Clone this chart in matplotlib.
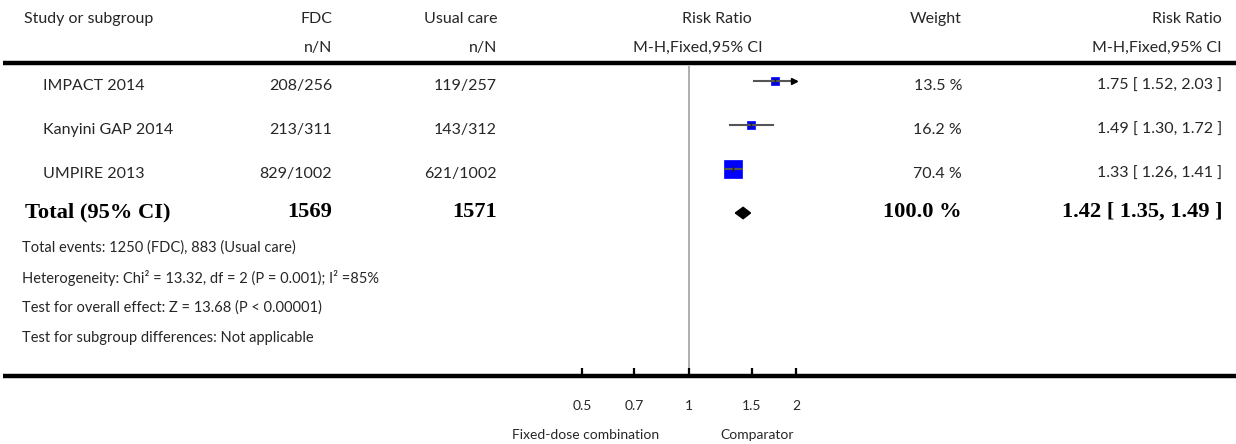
import numpy as np
import matplotlib
matplotlib.use("Agg")
import matplotlib.pyplot as plt

# study data
studies = ["IMPACT 2014", "Kanyini GAP 2014", "UMPIRE 2013"]
fdc_nN = ["208/256", "213/311", "829/1002"]
usual_nN = ["119/257", "143/312", "621/1002"]
rr = [1.75, 1.49, 1.33]
ci_lo = [1.52, 1.30, 1.26]
ci_hi = [2.03, 1.72, 1.41]
weights = [13.5, 16.2, 70.4]

# pooled result
total_fdc = 1569
total_usual = 1571
total_rr = 1.42
total_lo = 1.35
total_hi = 1.49
total_weight = 100.0

footnotes = [
    "Total events: 1250 (FDC), 883 (Usual care)",
    "Heterogeneity: Chi\u00b2 = 13.32, df = 2 (P = 0.001); I\u00b2 =85%",
    "Test for overall effect: Z = 13.68 (P < 0.00001)",
    "Test for subgroup differences: Not applicable",
]

xticks = [0.5, 0.7, 1, 1.5, 2]
xticklabels = ["0.5", "0.7", "1", "1.5", "2"]
xmin, xmax = 0.5, 2

W, H = 1236, 444
fig = plt.figure(figsize=(W / 100, H / 100), dpi=100)
plt.rcParams["font.family"] = ["Lato", "DejaVu Sans"]

# layout axes in pixel coordinates
lay = fig.add_axes([0, 0, 1, 1])
lay.set_xlim(0, W)
lay.set_ylim(H, 0)
lay.axis("off")

fs = 11.5      # header / study rows
ffs = 10.5     # footnotes
bfs = 16.2     # bold total row
tc = "#262626"
serif = ["Liberation Serif", "DejaVu Serif"]

# headers
lay.text(24, 19, "Study or subgroup", fontsize=fs, color=tc, va="center")
lay.text(332, 19, "FDC", fontsize=fs, color=tc, va="center", ha="right")
lay.text(332, 48, "n/N", fontsize=fs, color=tc, va="center", ha="right")
lay.text(497, 19, "Usual care", fontsize=fs, color=tc, va="center", ha="right")
lay.text(497, 48, "n/N", fontsize=fs, color=tc, va="center", ha="right")
lay.text(717, 19, "Risk Ratio", fontsize=fs, color=tc, va="center", ha="center")
lay.text(698, 48, "M-H,Fixed,95% CI", fontsize=fs, color=tc, va="center", ha="center")
lay.text(962, 19, "Weight", fontsize=fs, color=tc, va="center", ha="right")
lay.text(1222, 19, "Risk Ratio", fontsize=fs, color=tc, va="center", ha="right")
lay.text(1222, 48, "M-H,Fixed,95% CI", fontsize=fs, color=tc, va="center", ha="right")

lay.plot([3, W], [63.5, 63.5], color="black", lw=3.2, solid_capstyle="butt")
lay.plot([3, W], [376, 376], color="black", lw=3.2, solid_capstyle="butt")

# study rows
for i, name in enumerate(studies):
    y = 86 + 44 * i
    lay.text(43, y, name, fontsize=fs, color=tc, va="center")
    lay.text(332, y, fdc_nN[i], fontsize=fs, color=tc, va="center", ha="right")
    lay.text(497, y, usual_nN[i], fontsize=fs, color=tc, va="center", ha="right")
    lay.text(962, y, f"{weights[i]:.1f} %", fontsize=fs, color=tc, va="center", ha="right")
    lay.text(1222, y, f"{rr[i]:.2f} [ {ci_lo[i]:.2f}, {ci_hi[i]:.2f} ]",
             fontsize=fs, color=tc, va="center", ha="right")

# total row
yt = 212
lay.text(25, yt, "Total (95% CI)", fontsize=bfs, family=serif, weight="bold", va="center")
lay.text(332, yt, str(total_fdc), fontsize=bfs, family=serif, weight="bold", va="center", ha="right")
lay.text(497, yt, str(total_usual), fontsize=bfs, family=serif, weight="bold", va="center", ha="right")
lay.text(962, yt, f"{total_weight:.1f} %", fontsize=bfs, family=serif, weight="bold",
         va="center", ha="right")
lay.text(1222, yt, f"{total_rr:.2f} [ {total_lo:.2f}, {total_hi:.2f} ]", fontsize=bfs,
         family=serif, weight="bold", va="center", ha="right")

for j, line in enumerate(footnotes):
    lay.text(22, 248 + 30 * j, line, fontsize=ffs, color=tc, va="center")

lay.text(586, 435, "Fixed-dose combination", fontsize=10, color=tc, va="center", ha="center")
lay.text(757, 435, "Comparator", fontsize=10, color=tc, va="center", ha="center")

# forest plot axes: 0.5 .. 2 spans x pixels 582..796, rows 81 + 44*i
left_px, right_px, top_px, bot_px = 582, 796, 66, 376
ax = fig.add_axes([left_px / W, 1 - bot_px / H, (right_px - left_px) / W, (bot_px - top_px) / H])
ax.set_xscale("log")
ax.set_xlim(xmin, xmax)
ax.set_ylim((bot_px - 81) / 44, (top_px - 81) / 44)
ax.patch.set_alpha(0)
for s in ax.spines.values():
    s.set_visible(False)
ax.set_yticks([])
ax.set_xticks(xticks)
ax.set_xticklabels(xticklabels)
ax.minorticks_off()
ax.tick_params(axis="x", direction="in", length=6, width=1.6, pad=17, labelsize=10,
               labelcolor=tc, color="black")
ax.axvline(1, color="#999999", lw=1.1, zorder=1)

for i in range(len(studies)):
    hi = min(ci_hi[i], xmax)
    side = 2.15 * np.sqrt(weights[i]) * 0.72
    ax.plot(rr[i], i, marker="s", ms=side, mfc="#0000ff", mec="#0000ff", mew=0.5, zorder=2)
    ax.plot([ci_lo[i], hi], [i, i], color="#555555", lw=1.5, zorder=3, clip_on=False)
    ax.plot(rr[i], i, marker="|", ms=4, mec="#222222", mew=1, zorder=4)
    if ci_hi[i] > xmax:
        ax.plot(hi * 0.985, i, marker=">", ms=4.5, mfc="black", mec="black", zorder=4,
                clip_on=False)

# pooled diamond
k = len(studies)
ax.fill([total_lo, total_rr, total_hi, total_rr], [k, k - 0.13, k, k + 0.13],
        color="black", zorder=3)

fig.savefig("out.png", dpi=100)
